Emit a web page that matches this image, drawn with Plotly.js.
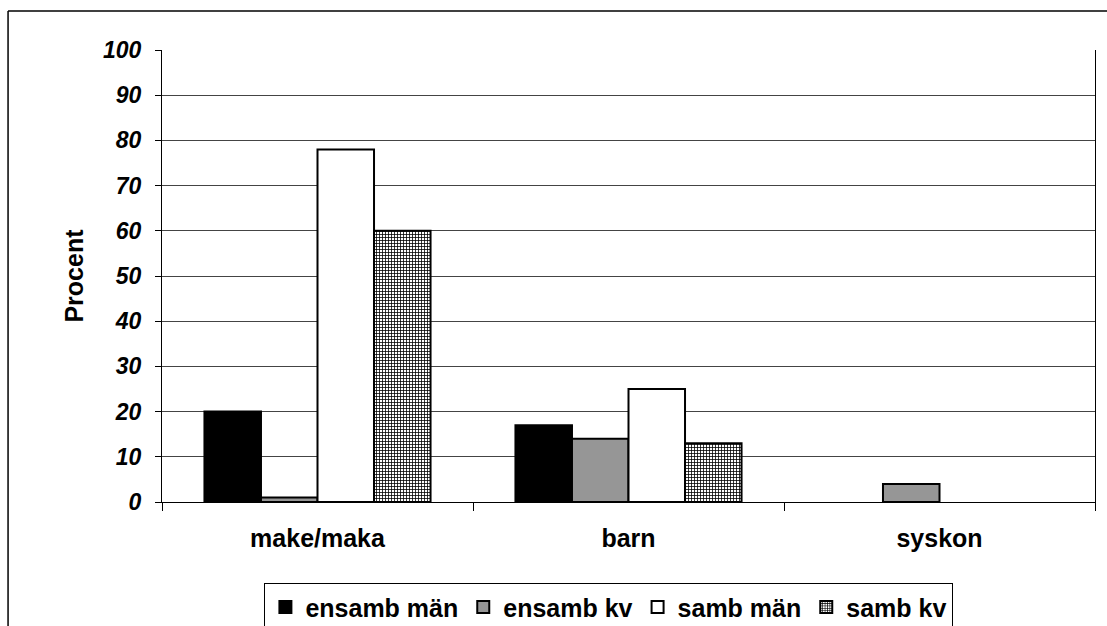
<!DOCTYPE html>
<html>
<head>
<meta charset="utf-8">
<script src="https://cdn.plot.ly/plotly-3.0.1.min.js"></script>
<style>
  html, body { margin: 0; padding: 0; background: #ffffff; }
  #chart { width: 1107px; height: 626px; }
</style>
</head>
<body>
<div id="chart"></div>
<script>
// Relatives named, in percent, by living situation
const categories = ['make/maka', 'barn', 'syskon'];
const seriesNames = ['ensamb män', 'ensamb kv', 'samb män', 'samb kv'];
const ensambMan = [20, 17, 0];
const ensambKv = [1, 14, 4];
const sambMan = [78, 25, 0];
const sambKv = [60, 13, 0];
const yTicks = [0, 10, 20, 30, 40, 50, 60, 70, 80, 90, 100];

const FONT = 'Arial, "Liberation Sans", sans-serif';
const outline = { color: '#000000', width: 2 };
// empty cells are left undrawn rather than shown as a flat outline
const drawn = vals => vals.map(v => (v === 0 ? null : v));

const traces = [
  { name: seriesNames[0], y: drawn(ensambMan), marker: { color: '#000000', line: outline } },
  { name: seriesNames[1], y: drawn(ensambKv), marker: { color: '#969696', line: outline } },
  { name: seriesNames[2], y: drawn(sambMan), marker: { color: '#ffffff', line: outline } },
  {
    name: seriesNames[3], y: drawn(sambKv),
    marker: {
      color: '#ffffff', line: outline,
      pattern: { shape: '+', fgcolor: '#000000', bgcolor: '#ffffff', size: 3, solidity: 0.45 }
    }
  }
].map(t => Object.assign({ type: 'bar', x: categories, hoverinfo: 'y+name' }, t));

const layout = {
  width: 1107,
  height: 626,
  margin: { l: 162, r: 12, t: 50, b: 124, autoexpand: false },
  paper_bgcolor: '#ffffff',
  plot_bgcolor: '#ffffff',
  barmode: 'group',
  bargap: 0.273,
  bargroupgap: 0,
  showlegend: true,
  font: { family: FONT, color: '#000000' },
  xaxis: {
    type: 'category',
    showline: true,
    linecolor: '#000000',
    linewidth: 1,
    ticks: 'outside',
    tickson: 'boundaries',
    ticklen: 8,
    tickcolor: '#000000',
    tickwidth: 1,
    ticklabelstandoff: 14,
    tickfont: { family: FONT, size: 25, weight: 'bold', color: '#000000' },
    showgrid: false,
    zeroline: false,
    fixedrange: true
  },
  yaxis: {
    range: [0, 100],
    tickvals: yTicks,
    ticktext: yTicks.map(String),
    showline: true,
    mirror: true,
    linecolor: '#000000',
    linewidth: 1,
    ticks: 'outside',
    ticklen: 6,
    tickcolor: '#000000',
    ticklabelstandoff: 9,
    tickfont: { family: FONT, size: 23, weight: 'bold', style: 'italic', color: '#000000' },
    showgrid: true,
    gridcolor: '#444444',
    gridwidth: 1,
    zeroline: false,
    title: {
      text: 'Procent',
      font: { family: FONT, size: 25, weight: 'bold', color: '#000000' },
      standoff: 12
    },
    fixedrange: true
  },
  legend: {
    orientation: 'h',
    x: 0.479,
    xanchor: 'center',
    y: -0.18,
    yanchor: 'top',
    bordercolor: '#000000',
    borderwidth: 1,
    bgcolor: '#ffffff',
    font: { family: FONT, size: 25, weight: 'bold', color: '#000000' },
    itemwidth: 30,
    tracegroupgap: 0
  },
  shapes: [
    // chart area frame (left and top edges)
    { type: 'line', xref: 'paper', yref: 'paper', x0: -0.165, x1: -0.165, y0: 1.0863, y1: -0.3,
      line: { color: '#000000', width: 1.5 } },
    { type: 'line', xref: 'paper', yref: 'paper', x0: -0.165, x1: 1.02, y0: 1.0863, y1: 1.0863,
      line: { color: '#000000', width: 1.5 } }
  ]
};

Plotly.newPlot('chart', traces, layout, { displayModeBar: false, staticPlot: true });
</script>
</body>
</html>
